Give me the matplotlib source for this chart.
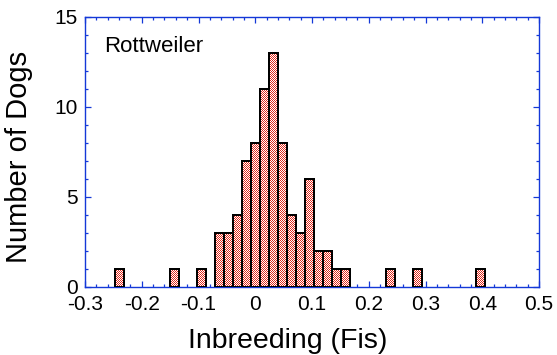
import numpy as np
import matplotlib
matplotlib.use("Agg")
import matplotlib.pyplot as plt
from matplotlib.ticker import MultipleLocator

plt.rcParams['font.family'] = ['Liberation Sans', 'DejaVu Sans']

# Histogram of inbreeding coefficient (Fis), Rottweiler
bin_centers = [-0.2385, -0.1431, -0.0954, -0.0636, -0.0477, -0.0318, -0.0159,
               0.0, 0.0159, 0.0318, 0.0477, 0.0636, 0.0795, 0.0954, 0.1113,
               0.1272, 0.1431, 0.159, 0.2385, 0.2862, 0.3975]
counts = [1, 1, 1, 3, 3, 4, 7, 8, 11, 13, 8, 4, 3, 6, 2, 2, 1, 1, 1, 1, 1]
bin_width = 0.0159

x_ticks = [-0.3, -0.2, -0.1, 0, 0.1, 0.2, 0.3, 0.4, 0.5]
x_ticklabels = ["-0.3", "-0.2", "-0.1", "0", "0.1", "0.2", "0.3", "0.4", "0.5"]
y_ticks = [0, 5, 10, 15]

blue = "#1438d8"
red = np.array([224, 42, 28], dtype=np.uint8)
key = "#ff00ff"  # placeholder fill, swapped for a red/white checker below

fig = plt.figure(figsize=(5.57, 3.55), dpi=100)
ax = fig.add_axes([85 / 557, 68 / 355, 454 / 557, 270 / 355])
ax.set_xlim(-0.3, 0.5)
ax.set_ylim(0, 15)

ax.bar(bin_centers, counts, width=bin_width, color=key, linewidth=0,
       antialiased=False, zorder=2)
ax.bar(bin_centers, counts, width=bin_width, facecolor="none",
       edgecolor="black", linewidth=1.1, antialiased=False, zorder=3)

ax.set_xticks(x_ticks)
ax.set_xticklabels(x_ticklabels)
ax.set_yticks(y_ticks)
ax.xaxis.set_minor_locator(MultipleLocator(0.02))
ax.yaxis.set_minor_locator(MultipleLocator(1))
ax.tick_params(which="both", direction="in", top=True, right=True,
               color=blue, width=0.9, labelsize=15, labelcolor="black")
ax.tick_params(which="major", length=4.5)
ax.tick_params(axis="y", which="major", pad=5)
ax.tick_params(axis="x", which="major", pad=5.5)
ax.tick_params(which="minor", length=2.5)
for s in ax.spines.values():
    s.set_color(blue)
    s.set_linewidth(1.0)

ax.set_xlabel("Inbreeding (Fis)", fontsize=20.5)
ax.xaxis.set_label_coords((288 - 85) / 454, -0.15)
ax.set_ylabel("Number of Dogs", fontsize=21)
ax.yaxis.set_label_coords(-0.115, 0.48)
ax.text(0.043, 0.871, "Rottweiler", transform=ax.transAxes, fontsize=16,
        ha="left", va="baseline")

# render, then replace the placeholder fill with a 1px checker
fig.canvas.draw()
img = np.asarray(fig.canvas.buffer_rgba())[:, :, :3].copy()
plt.close(fig)
h, w = img.shape[:2]
yy, xx = np.mgrid[0:h, 0:w]
fill = (img[:, :, 0] == 255) & (img[:, :, 1] == 0) & (img[:, :, 2] == 255)
img[fill] = 255
img[fill & ((xx + yy) % 2 == 0)] = red
plt.imsave("out.png", img)
